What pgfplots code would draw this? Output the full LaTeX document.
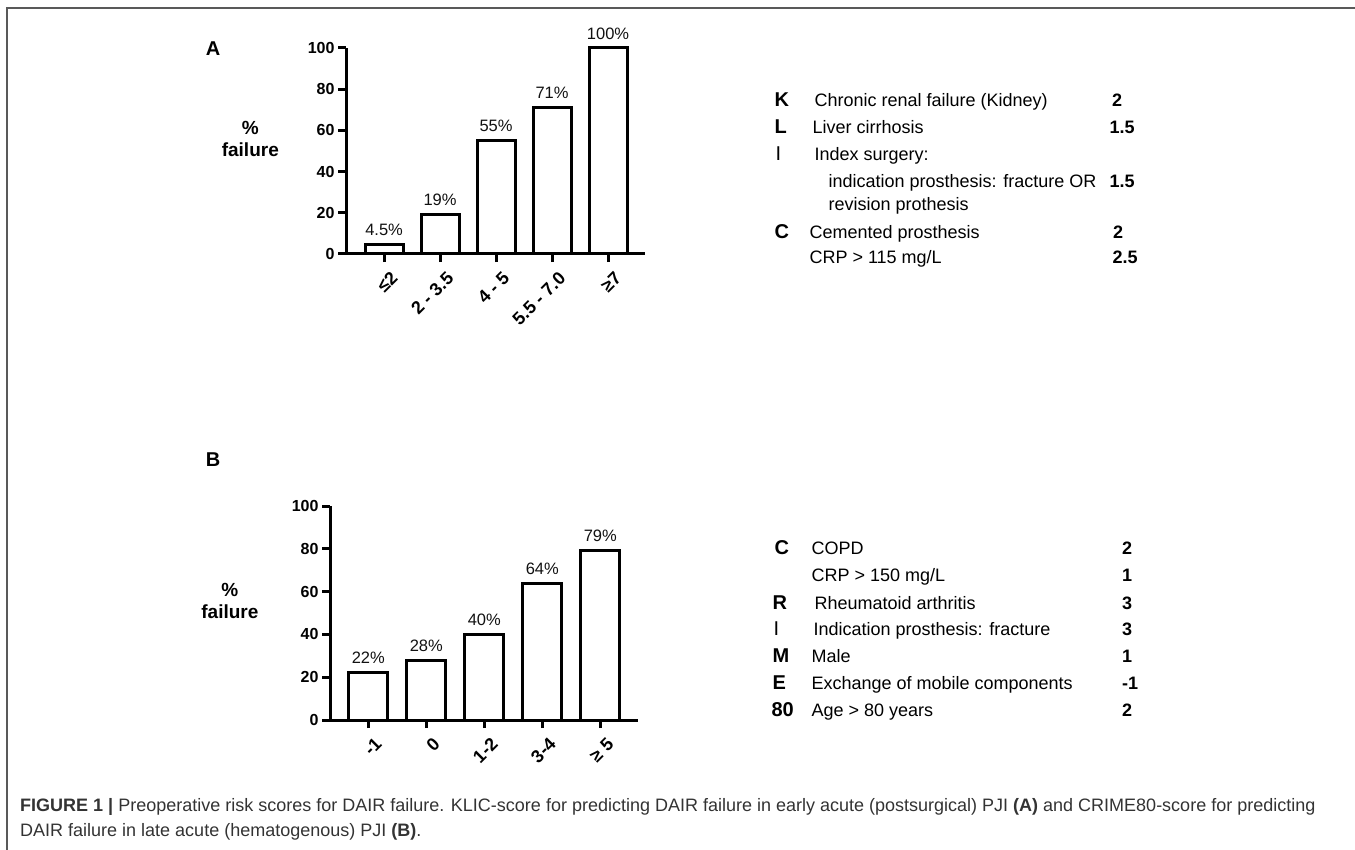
\documentclass[border=0pt]{standalone}
\usepackage{fontspec}
\setmainfont{Liberation Sans}
\usepackage{pgfplots}
\pgfplotsset{compat=1.18}

\definecolor{captxt}{HTML}{333333}
\definecolor{txt}{HTML}{111111}

\pgfplotsset{
  riskbars/.style={
    scale only axis, clip=false,
    axis x line*=bottom, axis y line*=left,
    axis line style={line width=3pt},
    ymin=0, ymax=100, ytick={0,20,...,100},
    xtick={0,...,4},
    tick align=outside, major tick length=8pt,
    xtick style={black, line width=3pt},
    ytick style={black, line width=3pt},
    /pgf/number format/assume math mode=true,
    ticklabel style={font=\bfseries\fontsize{16}{16}\selectfont},
    xticklabel style={rotate=45, anchor=north east, inner sep=2pt, yshift=-8pt,
      font=\bfseries\fontsize{18}{18}\selectfont},
    ylabel={\%\\failure},
    ylabel style={font=\bfseries\fontsize{19}{22}\selectfont, align=center,
      rotate=-90, anchor=center},
    ybar,
    nodes near coords, point meta=explicit symbolic,
    every node near coord/.append style={font=\fontsize{16.5}{16.5}\selectfont,
      text=txt, anchor=south, yshift=4pt},
  }
}

\newcommand{\row}[5]{%
  \node[anchor=base west, font=\bfseries\fontsize{20}{20}\selectfont] at (#1pt,-#2pt) {#3};
  \node[anchor=base west, font=\fontsize{18}{18}\selectfont] at (#4,-#2pt) {#5};
}
\newcommand{\val}[3]{%
  \node[anchor=base, font=\bfseries\fontsize{18}{18}\selectfont] at (#1pt,-#2pt) {#3};
}

\begin{document}
\begin{tikzpicture}
\path[use as bounding box] (0pt,0pt) rectangle (1355pt,-850pt);

% frame
\draw[black!65, line width=1.5pt] (7pt,-850pt) -- (7pt,-8pt) -- (1355pt,-8pt);

% ---------- panel A ----------
\node[font=\bfseries\fontsize{20}{20}\selectfont] at (213pt,-49pt) {A};
\begin{axis}[riskbars,
  at={(346pt,-254pt)}, anchor=south west,
  width=299pt, height=206pt,
  xmin=-0.68, xmax=4.66, bar width=0.68,
  xticklabels={≤2, 2 - 3.5, 4 - 5, 5.5 - 7.0, ≥7},
  ylabel style={at={(axis description cs:-0.32,0.56)}},
]
\addplot[draw=black, fill=white, line width=3pt] coordinates {
  (0,4.5) [4.5\%]
  (1,19)  [19\%]
  (2,55)  [55\%]
  (3,71)  [71\%]
  (4,100) [100\%]
};
\end{axis}

% ---------- panel B ----------
\node[font=\bfseries\fontsize{20}{20}\selectfont] at (213pt,-460pt) {B};
\begin{axis}[riskbars,
  at={(330pt,-720pt)}, anchor=south west,
  width=308pt, height=214pt,
  xmin=-0.66, xmax=4.65, bar width=0.67,
  xticklabels={-1, 0, 1-2, 3-4, ≥ 5},
  ylabel style={at={(axis description cs:-0.325,0.556)}},
]
\addplot[draw=black, fill=white, line width=3pt] coordinates {
  (0,22) [22\%]
  (1,28) [28\%]
  (2,40) [40\%]
  (3,64) [64\%]
  (4,79) [79\%]
};
\end{axis}

% ---------- KLIC score ----------
\row{771}{107}{K}{811pt}{Chronic renal failure (Kidney)}
\val{1117}{107}{2}
\row{771}{134}{L}{809pt}{Liver cirrhosis}
\val{1122}{134}{1.5}
\node[anchor=base west, font=\fontsize{20}{20}\selectfont] at (772pt,-161pt) {I};
\node[anchor=base west, font=\fontsize{18}{18}\selectfont] at (811pt,-161pt) {Index surgery:};
\node[anchor=base west, font=\fontsize{18}{18}\selectfont] at (825pt,-188pt) {indication prosthesis: fracture OR};
\val{1122}{188}{1.5}
\node[anchor=base west, font=\fontsize{18}{18}\selectfont] at (825pt,-211pt) {revision prothesis};
\row{771}{239}{C}{806pt}{Cemented prosthesis}
\val{1118}{239}{2}
\node[anchor=base west, font=\fontsize{18}{18}\selectfont] at (806pt,-264pt) {CRP > 115 mg/L};
\val{1125}{264}{2.5}

% ---------- CRIME80 score ----------
\row{771}{554}{C}{808pt}{COPD}
\val{1127}{554}{2}
\node[anchor=base west, font=\fontsize{18}{18}\selectfont] at (808pt,-581pt) {CRP > 150 mg/L};
\val{1127}{581}{1}
\row{769}{609}{R}{811pt}{Rheumatoid arthritis}
\val{1127}{609}{3}
\node[anchor=base west, font=\fontsize{20}{20}\selectfont] at (770pt,-635pt) {I};
\node[anchor=base west, font=\fontsize{18}{18}\selectfont] at (810pt,-635pt) {Indication prosthesis: fracture};
\val{1127}{635}{3}
\row{769}{662}{M}{808pt}{Male}
\val{1127}{662}{1}
\row{769}{689}{E}{808pt}{Exchange of mobile components}
\val{1130}{689}{-1}
\row{768}{716}{80}{808pt}{Age > 80 years}
\val{1127}{716}{2}

% ---------- caption ----------
\node[anchor=base west, text=captxt, font=\fontsize{18}{18}\selectfont, inner sep=0pt]
  at (20pt,-811pt) {\textbf{FIGURE 1 |} Preoperative risk scores for DAIR failure. KLIC-score for predicting DAIR failure in early acute (postsurgical) PJI \textbf{(A)} and CRIME80-score for predicting};
\node[anchor=base west, text=captxt, font=\fontsize{18}{18}\selectfont, inner sep=0pt]
  at (20pt,-836pt) {DAIR failure in late acute (hematogenous) PJI \textbf{(B)}.};
\end{tikzpicture}
\end{document}
